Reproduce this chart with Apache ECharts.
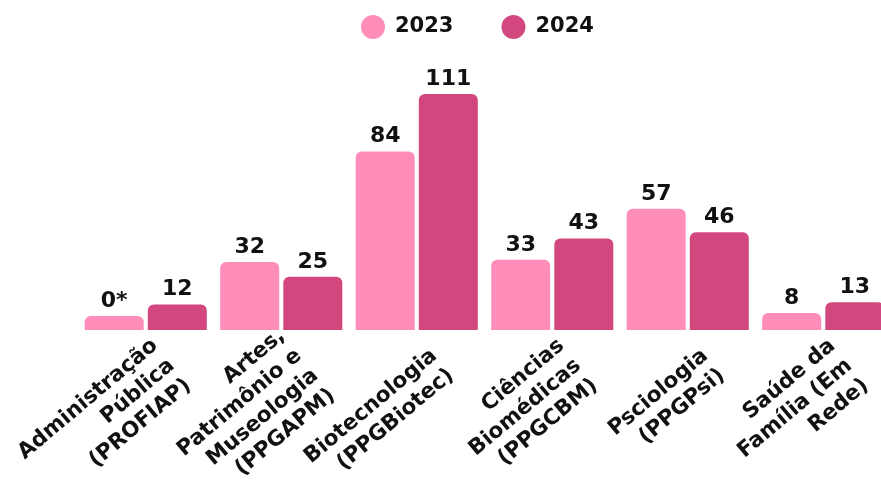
<!DOCTYPE html>
<html>
<head>
<meta charset="utf-8">
<script src="https://cdn.jsdelivr.net/npm/echarts@6/dist/echarts.min.js"></script>
<style>
    html, body { margin: 0; padding: 0; background: #fff; }
    #chart { width: 881px; height: 480px; }
</style>
</head>
<body>
<div id="chart"></div>
<script>
    // dados
    const categorias = [
        'Administração\nPública\n(PROFIAP)',
        'Artes,\nPatrimônio e\nMuseologia\n(PPGAPM)',
        'Biotecnologia\n(PPGBiotec)',
        'Ciências\nBiomédicas\n(PPGCBM)',
        'Psciologia\n(PPGPsi)',
        'Saúde da\nFamília (Em\nRede)'
    ]
    const anos = ['2023', '2024']
    const valores2023 = [0, 32, 84, 33, 57, 8]
    const valores2024 = [12, 25, 111, 43, 46, 13]

    const fonte = '"DejaVu Sans", sans-serif'
    const cores = ['#FF8DB9', '#D1477E']

    const chart = echarts.init(document.getElementById('chart'))

    const rotulo = {
        show: true,
        position: 'top',
        distance: 4,
        color: '#111',
        fontFamily: fonte,
        fontWeight: 'bold',
        fontSize: 22,
        // o zero aparece com asterisco
        formatter: p => p.value === 0 ? '0*' : String(p.value)
    }

    const option = {
        animation: false,
        legend: {
            data: anos,
            left: 356,
            top: 10,
            icon: 'circle',
            itemWidth: 24,
            itemHeight: 24,
            itemGap: 48,
            textStyle: {
                color: '#111',
                fontFamily: fonte,
                fontWeight: 'bold',
                fontSize: 21,
                padding: [0, 0, 0, 5]
            }
        },
        grid: [
            { left: 78, width: 813, top: 94, height: 236, outerBoundsMode: 'none' },
            // grade só para os rótulos do eixo
            { left: 104, width: 813, top: 94, height: 236, outerBoundsMode: 'none' }
        ],
        xAxis: [
            {
                gridIndex: 0,
                type: 'category',
                data: categorias,
                axisLine: { show: false },
                axisTick: { show: false },
                axisLabel: { show: false }
            },
            {
                gridIndex: 1,
                type: 'category',
                data: categorias,
                axisLine: { show: false },
                axisTick: { show: false },
                axisLabel: {
                    interval: 0,
                    rotate: 40,
                    margin: 33,
                    color: '#111',
                    fontFamily: fonte,
                    fontWeight: 'bold',
                    fontSize: 21.5,
                    lineHeight: 26
                }
            }
        ],
        yAxis: [
            { gridIndex: 0, type: 'value', min: 0, max: 111, show: false },
            { gridIndex: 1, type: 'value', min: 0, max: 111, show: false }
        ],
        series: [
            {
                name: anos[0],
                type: 'bar',
                data: valores2023,
                barWidth: 59,
                barGap: '7%',
                barMinHeight: 14,
                itemStyle: { color: cores[0], borderRadius: [6, 6, 0, 0] },
                label: rotulo
            },
            {
                name: anos[1],
                type: 'bar',
                data: valores2024,
                barWidth: 59,
                barGap: '7%',
                itemStyle: { color: cores[1], borderRadius: [6, 6, 0, 0] },
                label: rotulo
            }
        ]
    }

    chart.setOption(option)
</script>
</body>
</html>
